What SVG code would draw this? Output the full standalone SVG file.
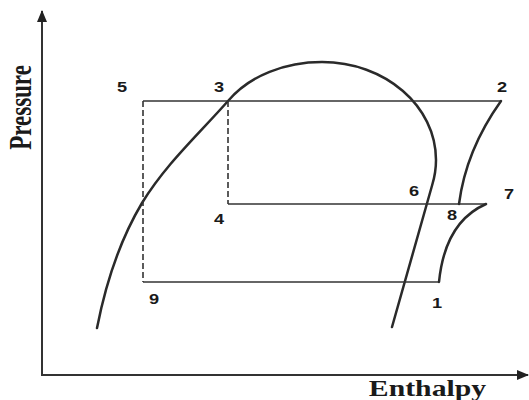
<svg xmlns="http://www.w3.org/2000/svg" width="529" height="400" viewBox="0 0 529 400">
<style>
  .axis { stroke: #333; stroke-width: 2; fill: none; }
  .curve { stroke: #2a2a2a; stroke-width: 2.5; fill: none; stroke-linecap: round; }
  .cyc { stroke: #333; stroke-width: 1.6; fill: none; }
  .dash { stroke: #333; stroke-width: 1.6; fill: none; stroke-dasharray: 6 3; }
  .lbl { font-family: "Liberation Sans", Arial, sans-serif; font-weight: bold; font-size: 14px; fill: #1a1a1a; text-anchor: middle; }
  .ax { font-family: "Liberation Serif", "Times New Roman", serif; font-weight: bold; fill: #1a1a1a; text-anchor: middle; }
</style>
<defs>
  <marker id="arr" viewBox="0 0 12 10" refX="11" refY="5" markerWidth="12" markerHeight="10" markerUnits="userSpaceOnUse" orient="auto">
    <path d="M0,0 L12,5 L0,10 Z" fill="#222"/>
  </marker>
</defs>
<rect width="529" height="400" fill="#fff"/>

<g id="axes">
  <line class="axis" x1="42" y1="375" x2="42" y2="11" marker-end="url(#arr)"/>
  <line class="axis" x1="41" y1="375" x2="528" y2="375" marker-end="url(#arr)"/>
  <text class="ax" font-size="23" transform="translate(31,107.5) rotate(-90) scale(1,1.35)">Pressure</text>
  <text class="ax" font-size="24" transform="translate(427.5,396) scale(1.24,1)">Enthalpy</text>
</g>

<g id="saturation-dome">
  <path class="curve" d="M97,328 C105,287 117,245 142,203 C166,164 197,136 228,101 C249.9,75.2 285.6,62 322,62 C385,62 436,105.9 436,160 C436,168.4 434.7,176.8 432.2,185 L392,327"/>
</g>

<g id="connectors">
  <line class="cyc" x1="143" y1="101" x2="501" y2="101"/>
  <line class="dash" x1="143" y1="101" x2="143" y2="282"/>
  <line class="cyc" x1="143" y1="282" x2="439" y2="282"/>
  <line class="dash" x1="228" y1="101" x2="228" y2="204"/>
  <line class="cyc" x1="228" y1="204" x2="486" y2="204"/>
  <path class="curve" d="M501,101 Q466,150 459,204"/>
  <path class="curve" d="M486,204 Q445,222 439,282"/>
</g>

<g id="p1"><text class="lbl" transform="translate(437,308) scale(1.3,1)">1</text></g>
<g id="p2"><text class="lbl" transform="translate(502,92) scale(1.3,1)">2</text></g>
<g id="p3"><text class="lbl" transform="translate(219,92) scale(1.3,1)">3</text></g>
<g id="p4"><text class="lbl" transform="translate(219,224) scale(1.3,1)">4</text></g>
<g id="p5"><text class="lbl" transform="translate(122,92) scale(1.3,1)">5</text></g>
<g id="p6"><text class="lbl" transform="translate(414,196) scale(1.3,1)">6</text></g>
<g id="p7"><text class="lbl" transform="translate(509,199) scale(1.3,1)">7</text></g>
<g id="p8"><text class="lbl" transform="translate(452,220) scale(1.3,1)">8</text></g>
<g id="p9"><text class="lbl" transform="translate(154,304) scale(1.3,1)">9</text></g>
</svg>
